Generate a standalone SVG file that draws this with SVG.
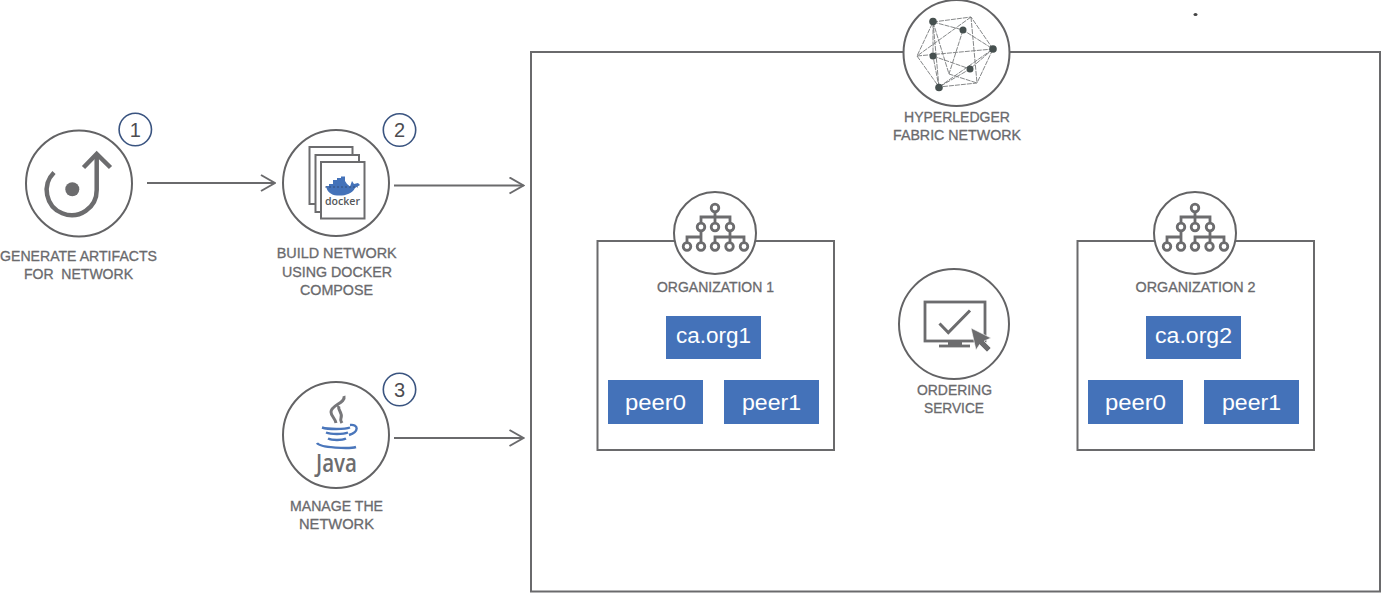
<svg xmlns="http://www.w3.org/2000/svg" xmlns:xlink="http://www.w3.org/1999/xlink" width="1382" height="593" viewBox="0 0 1382 593">
<style>
.box{fill:#fff;stroke:#6a6a6c;stroke-width:2}
.ring{fill:#fff;stroke:#636365;stroke-width:2}
.badge{fill:#fff;stroke:#3a5480;stroke-width:1.6}
.num{font:20px "Liberation Sans",Arial,sans-serif;fill:#4c4c50;text-anchor:middle}
.lbl{font:14px "Liberation Sans",Arial,sans-serif;fill:#6a6a6d;stroke:#6a6a6d;stroke-width:.3;text-anchor:middle}
.blue{fill:#4472b9}
.bt{font:22.5px "Liberation Sans",Arial,sans-serif;fill:#fff;text-anchor:middle}
.ic{fill:none;stroke:#6c6c6e;stroke-width:2.8}
.ln{fill:none;stroke:#6a6a6c;stroke-width:2}
.hx{fill:none;stroke:#77797a;stroke-width:.9;stroke-dasharray:5 1}
.hd{fill:#46504f}
.jb{fill:none;stroke:#4a76bb;stroke-width:2.400}
.js{fill:none;stroke:#77777a;stroke-width:3}
</style>
<defs>
<marker id="arr" viewBox="0 0 16 18" refX="15" refY="9" markerWidth="16" markerHeight="18" markerUnits="userSpaceOnUse" orient="auto"><path d="M1,1L15,9L1,17" fill="none" stroke="#6a6a6c" stroke-width="2"/></marker>
<g id="orgicon">
<circle class="ring" cx="715" cy="233" r="41"/>
<path class="ic" d="M715,212V222M701,223V217H730V223M701,231V237H687V243M701,237V243M730,231V237H715V243M730,237V243M744,243V237H730"/>
<circle class="ic" cx="715" cy="208" r="3.800"/>
<circle class="ic" cx="701" cy="227" r="3.800"/><circle class="ic" cx="715" cy="227" r="3.800"/><circle class="ic" cx="730" cy="227" r="3.800"/>
<circle class="ic" cx="687" cy="246.500" r="3.800"/><circle class="ic" cx="701" cy="246.500" r="3.800"/><circle class="ic" cx="715" cy="246.500" r="3.800"/><circle class="ic" cx="729.500" cy="246.500" r="3.800"/><circle class="ic" cx="744" cy="246.500" r="3.800"/>
</g>
</defs>

<rect width="1382" height="593" fill="#fff"/>
<ellipse cx="1195.500" cy="14.500" rx="2" ry="1.500" fill="#444"/>

<g id="network">
<rect class="box" x="531" y="52" width="849" height="539.500"/>
<circle class="ring" cx="956.500" cy="53" r="53"/>
<path class="hx" d="M933,22L971,17L993,49L977,83L939,87L917,56ZM933,22L963,30L993,49L970,69L939,87L933,56ZM933,22L949,74L977,83M971,17L917,56M971,17L977,83M917,56L993,49M933,22L939,87M939,87L993,49M933,56L970,69M963,30L949,74"/>
<circle class="hd" cx="933" cy="21.500" r="3.800"/><circle class="hd" cx="963" cy="30" r="3.500"/><circle class="hd" cx="993" cy="49" r="3.800"/><circle class="hd" cx="933" cy="56" r="3.500"/><circle class="hd" cx="970" cy="69" r="3.500"/><circle class="hd" cx="939" cy="87.500" r="3.800"/>
<text class="lbl" x="957" y="121.700" textLength="106" lengthAdjust="spacingAndGlyphs">HYPERLEDGER</text>
<text class="lbl" x="957" y="139.500" textLength="128" lengthAdjust="spacingAndGlyphs">FABRIC NETWORK</text>
</g>

<g id="org1">
<rect class="box" x="597.500" y="241" width="236.500" height="209"/>
<use xlink:href="#orgicon" href="#orgicon"/>
<text class="lbl" x="715.500" y="291.700" textLength="117" lengthAdjust="spacingAndGlyphs">ORGANIZATION 1</text>
<rect class="blue" x="666" y="316" width="95" height="43"/><text class="bt" x="713.500" y="343" textLength="75" lengthAdjust="spacingAndGlyphs">ca.org1</text>
<rect class="blue" x="608" y="380" width="95" height="44"/><text class="bt" x="655.500" y="410" textLength="61" lengthAdjust="spacingAndGlyphs">peer0</text>
<rect class="blue" x="724" y="380" width="95" height="44"/><text class="bt" x="771.500" y="410" textLength="59" lengthAdjust="spacingAndGlyphs">peer1</text>
</g>

<g id="org2">
<rect class="box" x="1077.500" y="241" width="236.500" height="209"/>
<use xlink:href="#orgicon" href="#orgicon" x="480"/>
<text class="lbl" x="1195.500" y="291.700" textLength="120" lengthAdjust="spacingAndGlyphs">ORGANIZATION 2</text>
<rect class="blue" x="1146" y="316" width="95" height="43"/><text class="bt" x="1193.500" y="343" textLength="77" lengthAdjust="spacingAndGlyphs">ca.org2</text>
<rect class="blue" x="1088" y="380" width="95" height="44"/><text class="bt" x="1135.500" y="410" textLength="61" lengthAdjust="spacingAndGlyphs">peer0</text>
<rect class="blue" x="1204" y="380" width="95" height="44"/><text class="bt" x="1251.500" y="410" textLength="59" lengthAdjust="spacingAndGlyphs">peer1</text>
</g>

<g id="ordering">
<circle class="ring" cx="954" cy="324" r="55"/>
<rect class="ic" x="925" y="302" width="60" height="39"/>
<path d="M939.500,323.500L948.300,332.500L970,310.500" fill="none" stroke="#6c6c6e" stroke-width="3"/>
<rect x="948" y="341" width="14" height="4" fill="#6c6c6e"/>
<path class="ic" d="M939,346H970"/>
<path d="M971,328L991,338L984,341L991,348L987,352L979.500,344.500L976,350Z" fill="#6c6c6e" stroke="#fff" stroke-width=".6"/>
<text class="lbl" x="954.500" y="395" textLength="75" lengthAdjust="spacingAndGlyphs">ORDERING</text>
<text class="lbl" x="954" y="413" textLength="60" lengthAdjust="spacingAndGlyphs">SERVICE</text>
</g>

<g id="generate">
<circle class="ring" cx="79" cy="183.500" r="53"/>
<path d="M54,172.500A25,25 0 1 0 96.700,190V155" fill="none" stroke="#6c6c6e" stroke-width="4.500"/>
<path d="M83.500,167.500L96.700,154L110.500,167.500" fill="none" stroke="#6c6c6e" stroke-width="4.500"/>
<circle cx="72.300" cy="189.300" r="7" fill="#6c6c6e"/>
<circle class="badge" cx="135.300" cy="129.500" r="16.200"/><text class="num" x="135.300" y="136.500">1</text>
<text class="lbl" x="78.500" y="260.700" textLength="157" lengthAdjust="spacingAndGlyphs">GENERATE ARTIFACTS</text>
<text class="lbl" x="78.500" y="278.500" textLength="109" lengthAdjust="spacingAndGlyphs" xml:space="preserve">FOR  NETWORK</text>
</g>

<g id="build">
<circle class="ring" cx="336" cy="183" r="53"/>
<rect x="309.500" y="147" width="43" height="57" fill="#fff" stroke="#6c6c6e" stroke-width="2"/>
<rect x="315.500" y="155" width="43.500" height="57" fill="#fff" stroke="#6c6c6e" stroke-width="2"/>
<rect x="321" y="162" width="43.500" height="56.500" fill="#fff" stroke="#6c6c6e" stroke-width="2"/>
<path class="blue" d="M326,186H329V184H333V180H337V178H341V176.500L345,176.500L345,181L347,184L350,186.500L352,181L354,184L358,183L360,185L355,188C352,194 345,196 337,195.500C331,195 327,192 326,186Z"/>
<path d="M325,187H358" stroke="#2f3f60" stroke-width=".7" stroke-dasharray="2 2"/>
<text x="342.500" y="205" font-family="'Open Sans',sans-serif" font-size="11" fill="#55575a" text-anchor="middle" textLength="35" lengthAdjust="spacingAndGlyphs" font-weight="600">docker</text>
<circle class="badge" cx="399.500" cy="130" r="16.200"/><text class="num" x="399.500" y="137">2</text>
<text class="lbl" x="336.700" y="258" textLength="120" lengthAdjust="spacingAndGlyphs">BUILD NETWORK</text>
<text class="lbl" x="337" y="276.700" textLength="110" lengthAdjust="spacingAndGlyphs">USING DOCKER</text>
<text class="lbl" x="336.500" y="295" textLength="73" lengthAdjust="spacingAndGlyphs">COMPOSE</text>
</g>

<g id="manage">
<circle class="ring" cx="336" cy="435" r="53"/>
<path class="js" d="M344,396C346,403 331,405 331,412C331,416 335,418 336,423M339,406C337,410 343,412 341,418C340,421 341,421 342,423"/>
<path class="jb" d="M322,427.500C328,429.500 345,429.500 350,427.500M350,425C359,424 359,432 349,435M326,432.500C331,434.500 343,434.500 348,432.500M328,438.500C332,440.500 342,440.500 346,438.500M317,443C320,448 350,449 356,447"/>
<text x="336.500" y="472" font-family="'Open Sans',sans-serif" font-size="25" font-weight="600" fill="#6c6c6e" text-anchor="middle" textLength="41" lengthAdjust="spacingAndGlyphs">Java</text>
<circle class="badge" cx="399.500" cy="389.500" r="16.200"/><text class="num" x="399.500" y="396.500">3</text>
<text class="lbl" x="336.500" y="510.700" textLength="93" lengthAdjust="spacingAndGlyphs">MANAGE THE</text>
<text class="lbl" x="336.500" y="529" textLength="75" lengthAdjust="spacingAndGlyphs">NETWORK</text>
</g>

<g id="connectors">
<path class="ln" marker-end="url(#arr)" d="M147,183H275"/>
<path class="ln" marker-end="url(#arr)" d="M394,185.500H523.500"/>
<path class="ln" marker-end="url(#arr)" d="M394,438H523.500"/>
</g>
</svg>
